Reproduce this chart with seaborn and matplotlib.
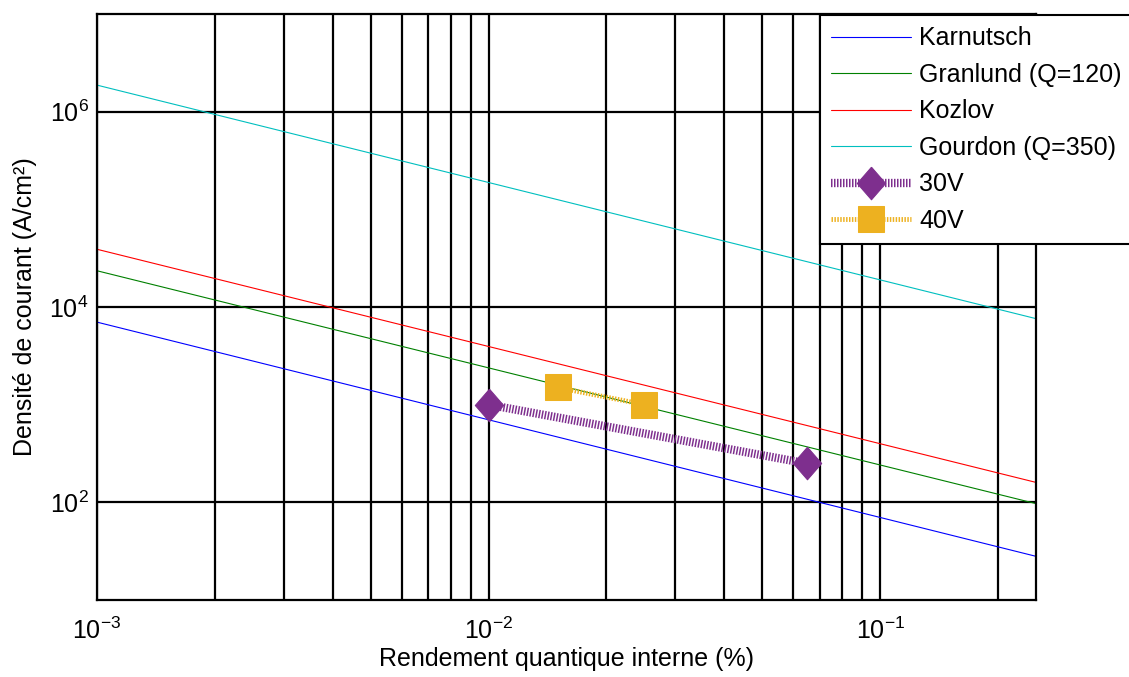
import numpy as np
import pandas as pd
import matplotlib
matplotlib.use("Agg")
import matplotlib.pyplot as plt
import seaborn as sns

# model curves: end points (straight lines in log-log)
eta_model = [1e-3, 0.25]
j_karnutsch = [7000, 28]
j_granlund = [23500, 97]
j_kozlov = [39000, 160]
j_gourdon = [1.87e6, 7600]

# measured points
eta_30v = [0.010, 0.065]
j_30v = [1000, 250]
eta_40v = [0.015, 0.025]
j_40v = [1500, 1000]

sns.set_theme(style="white")
plt.rcParams['font.family'] = ['Liberation Sans', 'DejaVu Sans']
plt.rcParams['mathtext.fontset'] = 'custom'
plt.rcParams['mathtext.rm'] = 'Liberation Sans'
plt.rcParams['mathtext.it'] = 'Liberation Sans'
plt.rcParams['text.color'] = 'black'

fig = plt.figure(figsize=(11.29, 6.77), dpi=100)
ax = fig.add_axes([97 / 1129, 1 - 600 / 677, (1036 - 97) / 1129, (600 - 14) / 677])

models = [
    ("Karnutsch", j_karnutsch, "#0000FF"),
    ("Granlund (Q=120)", j_granlund, "#008000"),
    ("Kozlov", j_kozlov, "#FF0000"),
    ("Gourdon (Q=350)", j_gourdon, "#00BFBF"),
]
for name, jv, col in models:
    df = pd.DataFrame({"eta": eta_model, "j": jv})
    sns.lineplot(data=df, x="eta", y="j", ax=ax, color=col, linewidth=0.8, label=name)

diamond = [(0, 1), (0.87, 0), (0, -1), (-0.87, 0), (0, 1)]
df30 = pd.DataFrame({"eta": eta_30v, "j": j_30v})
sns.lineplot(data=df30, x="eta", y="j", ax=ax, color="#7E2F8E", linewidth=6,
             linestyle=(0, (0.18, 0.18)), marker=diamond, markersize=23.5,
             markerfacecolor="#7E2F8E", markeredgecolor="#7E2F8E", label="30V")
df40 = pd.DataFrame({"eta": eta_40v, "j": j_40v})
sns.lineplot(data=df40, x="eta", y="j", ax=ax, color="#EDB120", linewidth=3.5,
             linestyle=(0, (0.3, 0.3)), marker="s", markersize=18.5,
             markerfacecolor="#EDB120", markeredgecolor="#EDB120", label="40V")

ax.set_xscale("log")
ax.set_yscale("log")
ax.set_xlim(1e-3, 0.25)
ax.set_ylim(10, 1e7)
ax.set_yticks([1e2, 1e4, 1e6])
ax.yaxis.set_minor_locator(matplotlib.ticker.NullLocator())
ax.xaxis.set_minor_locator(matplotlib.ticker.LogLocator(base=10, subs=np.arange(2, 10)))
ax.xaxis.set_minor_formatter(matplotlib.ticker.NullFormatter())

ax.grid(True, which="both", axis="x", color="black", linewidth=1.6)
ax.grid(True, which="major", axis="y", color="black", linewidth=1.6)
ax.set_axisbelow(True)
for s in ax.spines.values():
    s.set_color("black")
    s.set_linewidth(1.6)
ax.tick_params(axis="both", which="both", length=0, labelsize=18, colors="black")
ax.tick_params(axis="x", pad=13)
ax.tick_params(axis="y", pad=6)

ax.set_xlabel("Rendement quantique interne (%)", fontsize=18, color="black", labelpad=2)
ax.set_ylabel("Densité de courant (A/cm²)", fontsize=18, color="black", labelpad=9)

leg = ax.legend(loc="upper left", bbox_to_anchor=(820 / 1129, 1 - 15 / 677),
                bbox_transform=fig.transFigure, borderaxespad=0, fontsize=18,
                frameon=True, fancybox=False, framealpha=1, edgecolor="black",
                handlelength=3.2, handletextpad=0.32, labelspacing=0.5, borderpad=0.45)
leg.get_frame().set_linewidth(1.5)

fig.savefig("out.png", dpi=100)
